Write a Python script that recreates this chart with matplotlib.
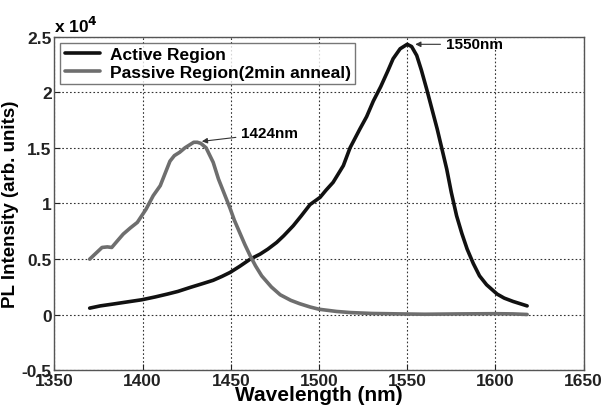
import matplotlib
matplotlib.use("Agg")
import matplotlib.pyplot as plt

active_wl = [1370, 1376, 1383, 1391, 1399.5, 1407, 1414, 1420, 1427, 1434, 1440, 1445, 1449.5,
             1455, 1461, 1466.6, 1471, 1476, 1480, 1485.4, 1490, 1494.9, 1500.6, 1504, 1508,
             1513.8, 1517.6, 1523.2, 1527, 1530.8, 1535, 1539, 1542, 1546, 1550, 1552.5, 1555.4,
             1558, 1561, 1564, 1567, 1570, 1572.4, 1575, 1578, 1581, 1584, 1587.5, 1591, 1595,
             1601, 1605, 1610, 1614, 1618]
active_int = [0.06, 0.08, 0.096, 0.115, 0.135, 0.16, 0.186, 0.21, 0.246, 0.28, 0.31, 0.345, 0.38,
              0.435, 0.50, 0.545, 0.59, 0.65, 0.71, 0.80, 0.89, 0.99, 1.055, 1.12, 1.19,
              1.34, 1.50, 1.67, 1.78, 1.92, 2.05, 2.19, 2.30, 2.39, 2.43, 2.41, 2.33,
              2.20, 2.03, 1.85, 1.67, 1.47, 1.31, 1.10, 0.89, 0.73, 0.59, 0.46, 0.35, 0.27,
              0.186, 0.15, 0.12, 0.10, 0.08]

passive_wl = [1370, 1374, 1377, 1380, 1382.5, 1386, 1389, 1393, 1397, 1402, 1406, 1410, 1413,
              1415.5, 1418, 1421, 1424, 1427, 1429, 1431, 1433, 1436, 1440, 1443, 1446, 1449.5,
              1452, 1455, 1458, 1461, 1464, 1467.5, 1473, 1478, 1484, 1489, 1495, 1500, 1510,
              1518, 1530, 1546, 1560, 1580, 1600, 1610, 1618]
passive_int = [0.50, 0.56, 0.605, 0.61, 0.605, 0.67, 0.725, 0.78, 0.83, 0.95, 1.07, 1.16, 1.28,
               1.38, 1.43, 1.46, 1.50, 1.53, 1.55, 1.55, 1.54, 1.50, 1.37, 1.22, 1.10, 0.96,
               0.85, 0.74, 0.63, 0.53, 0.44, 0.35, 0.25, 0.18, 0.13, 0.10, 0.07, 0.05, 0.03,
               0.02, 0.012, 0.008, 0.005, 0.008, 0.01, 0.008, 0.003]

xticks = [1350, 1400, 1450, 1500, 1550, 1600, 1650]
yticks = [-0.5, 0, 0.5, 1, 1.5, 2, 2.5]
ytick_labels = ["-0.5", "0", "0.5", "1", "1.5", "2", "2.5"]

plt.rcParams['font.family'] = ['Liberation Sans', 'DejaVu Sans']
plt.rcParams['font.weight'] = 'bold'

fig = plt.figure(figsize=(6.02, 4.10), dpi=100)
ax = fig.add_axes([0.0904, 0.094, 0.8790, 0.8145])

ax.plot(active_wl, active_int, color='#111111', lw=2.6, label='Active Region',
        solid_joinstyle='round', solid_capstyle='round')
ax.plot(passive_wl, passive_int, color='#6e6e6e', lw=2.6, label='Passive Region(2min anneal)',
        solid_joinstyle='round', solid_capstyle='round')

ax.set_xlim(1350, 1650)
ax.set_ylim(-0.5, 2.5)
ax.set_xticks(xticks)
ax.set_yticks(yticks)
ax.set_yticklabels(ytick_labels)
ax.tick_params(direction='in', length=4, labelsize=12.5, pad=2, colors='#222222')
for lab in ax.get_xticklabels() + ax.get_yticklabels():
    lab.set_fontweight('bold')
ax.grid(True, linestyle=(0, (1.5, 2)), color='#333333', lw=0.8)
for s in ax.spines.values():
    s.set_color('#555555')
    s.set_linewidth(1.0)

ax.set_xlabel('Wavelength (nm)', fontsize=15, fontweight='bold', labelpad=-2)
ax.set_ylabel('PL Intensity (arb. units)', fontsize=13.5, fontweight='bold', labelpad=2)
ax.text(0.0, 1.005, r'x 10$^{\mathbf{4}}$', transform=ax.transAxes, fontsize=12.5,
        fontweight='bold', ha='left', va='bottom')

leg = ax.legend(loc='upper left', fontsize=12.5, frameon=True, fancybox=False,
                edgecolor='#555555', borderaxespad=0.35, handlelength=2.0, handletextpad=0.6,
                borderpad=0.25, labelspacing=0.15)
leg.get_frame().set_linewidth(1.0)
for t in leg.get_texts():
    t.set_fontweight('bold')

ax.annotate('1424nm', xy=(1432, 1.555), xytext=(1456, 1.63),
            fontsize=11, fontweight='bold', va='center',
            arrowprops=dict(arrowstyle='-|>', color='#333333', lw=0.8, mutation_scale=8))
ax.annotate('1550nm', xy=(1553, 2.43), xytext=(1572, 2.43),
            fontsize=11, fontweight='bold', va='center',
            arrowprops=dict(arrowstyle='-|>', color='#333333', lw=0.8, mutation_scale=8))

fig.savefig('out.png', dpi=100, facecolor='white')
